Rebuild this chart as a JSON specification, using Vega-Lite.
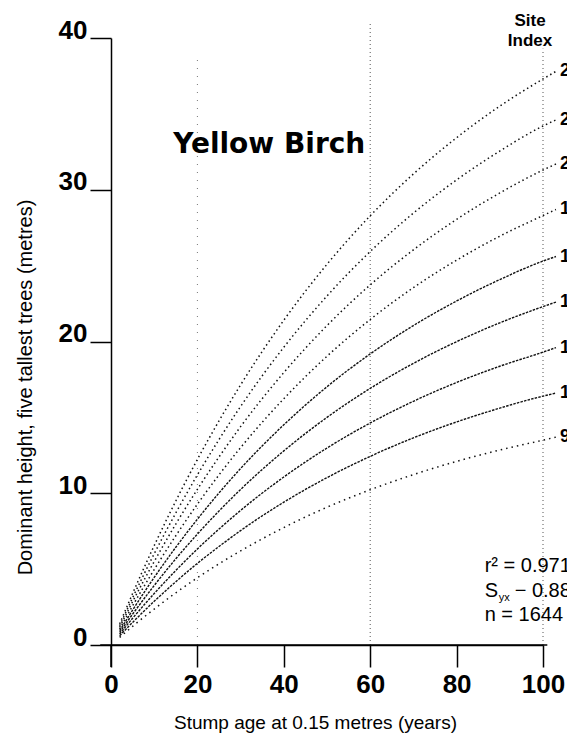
{
  "$schema": "https://vega.github.io/schema/vega-lite/v6.json",
  "width": 432,
  "height": 607,
  "autosize": "none",
  "padding": {"left": 111, "top": 38, "right": 24, "bottom": 91},
  "background": "white",
  "config": {"view": {"stroke": null}, "font": "Liberation Sans"},
  "datasets": {
    "curves": [
      {"si": 25, "age": 2, "h": 1.39}, {"si": 25, "age": 5, "h": 3.39}, {"si": 25, "age": 10, "h": 6.55}, {"si": 25, "age": 15, "h": 9.49}, {"si": 25, "age": 20, "h": 12.23}, {"si": 25, "age": 25, "h": 14.77}, {"si": 25, "age": 30, "h": 17.14}, {"si": 25, "age": 40, "h": 21.4}, {"si": 25, "age": 50, "h": 25.09}, {"si": 25, "age": 60, "h": 28.28}, {"si": 25, "age": 70, "h": 31.04}, {"si": 25, "age": 80, "h": 33.43}, {"si": 25, "age": 90, "h": 35.51}, {"si": 25, "age": 100, "h": 37.3}, {"si": 25, "age": 103, "h": 37.8},
      {"si": 23, "age": 2, "h": 1.27}, {"si": 23, "age": 5, "h": 3.11}, {"si": 23, "age": 10, "h": 6.01}, {"si": 23, "age": 15, "h": 8.7}, {"si": 23, "age": 20, "h": 11.21}, {"si": 23, "age": 25, "h": 13.54}, {"si": 23, "age": 30, "h": 15.72}, {"si": 23, "age": 40, "h": 19.62}, {"si": 23, "age": 50, "h": 23.0}, {"si": 23, "age": 60, "h": 25.93}, {"si": 23, "age": 70, "h": 28.46}, {"si": 23, "age": 80, "h": 30.65}, {"si": 23, "age": 90, "h": 32.55}, {"si": 23, "age": 100, "h": 34.2}, {"si": 23, "age": 103, "h": 34.6},
      {"si": 21, "age": 2, "h": 1.16}, {"si": 21, "age": 5, "h": 2.85}, {"si": 21, "age": 10, "h": 5.5}, {"si": 21, "age": 15, "h": 7.97}, {"si": 21, "age": 20, "h": 10.26}, {"si": 21, "age": 25, "h": 12.39}, {"si": 21, "age": 30, "h": 14.39}, {"si": 21, "age": 40, "h": 17.95}, {"si": 21, "age": 50, "h": 21.05}, {"si": 21, "age": 60, "h": 23.73}, {"si": 21, "age": 70, "h": 26.04}, {"si": 21, "age": 80, "h": 28.05}, {"si": 21, "age": 90, "h": 29.79}, {"si": 21, "age": 100, "h": 31.3}, {"si": 21, "age": 103, "h": 31.7},
      {"si": 19, "age": 2, "h": 1.05}, {"si": 19, "age": 5, "h": 2.58}, {"si": 19, "age": 10, "h": 4.97}, {"si": 19, "age": 15, "h": 7.2}, {"si": 19, "age": 20, "h": 9.28}, {"si": 19, "age": 25, "h": 11.21}, {"si": 19, "age": 30, "h": 13.01}, {"si": 19, "age": 40, "h": 16.23}, {"si": 19, "age": 50, "h": 19.03}, {"si": 19, "age": 60, "h": 21.45}, {"si": 19, "age": 70, "h": 23.55}, {"si": 19, "age": 80, "h": 25.36}, {"si": 19, "age": 90, "h": 26.94}, {"si": 19, "age": 100, "h": 28.3}, {"si": 19, "age": 103, "h": 28.7},
      {"si": 17, "age": 2, "h": 0.94}, {"si": 17, "age": 5, "h": 2.3}, {"si": 17, "age": 10, "h": 4.45}, {"si": 17, "age": 15, "h": 6.44}, {"si": 17, "age": 20, "h": 8.29}, {"si": 17, "age": 25, "h": 10.02}, {"si": 17, "age": 30, "h": 11.63}, {"si": 17, "age": 40, "h": 14.51}, {"si": 17, "age": 50, "h": 17.02}, {"si": 17, "age": 60, "h": 19.18}, {"si": 17, "age": 70, "h": 21.05}, {"si": 17, "age": 80, "h": 22.67}, {"si": 17, "age": 90, "h": 24.08}, {"si": 17, "age": 100, "h": 25.3}, {"si": 17, "age": 103, "h": 25.6},
      {"si": 15, "age": 2, "h": 0.83}, {"si": 15, "age": 5, "h": 2.03}, {"si": 15, "age": 10, "h": 3.92}, {"si": 15, "age": 15, "h": 5.68}, {"si": 15, "age": 20, "h": 7.31}, {"si": 15, "age": 25, "h": 8.83}, {"si": 15, "age": 30, "h": 10.25}, {"si": 15, "age": 40, "h": 12.79}, {"si": 15, "age": 50, "h": 15.0}, {"si": 15, "age": 60, "h": 16.91}, {"si": 15, "age": 70, "h": 18.56}, {"si": 15, "age": 80, "h": 19.99}, {"si": 15, "age": 90, "h": 21.23}, {"si": 15, "age": 100, "h": 22.3}, {"si": 15, "age": 103, "h": 22.6},
      {"si": 13, "age": 2, "h": 0.72}, {"si": 13, "age": 5, "h": 1.76}, {"si": 13, "age": 10, "h": 3.39}, {"si": 13, "age": 15, "h": 4.91}, {"si": 13, "age": 20, "h": 6.33}, {"si": 13, "age": 25, "h": 7.64}, {"si": 13, "age": 30, "h": 8.87}, {"si": 13, "age": 40, "h": 11.07}, {"si": 13, "age": 50, "h": 12.98}, {"si": 13, "age": 60, "h": 14.63}, {"si": 13, "age": 70, "h": 16.06}, {"si": 13, "age": 80, "h": 17.3}, {"si": 13, "age": 90, "h": 18.37}, {"si": 13, "age": 100, "h": 19.3}, {"si": 13, "age": 103, "h": 19.6},
      {"si": 11, "age": 2, "h": 0.61}, {"si": 11, "age": 5, "h": 1.49}, {"si": 11, "age": 10, "h": 2.88}, {"si": 11, "age": 15, "h": 4.17}, {"si": 11, "age": 20, "h": 5.38}, {"si": 11, "age": 25, "h": 6.49}, {"si": 11, "age": 30, "h": 7.54}, {"si": 11, "age": 40, "h": 9.41}, {"si": 11, "age": 50, "h": 11.03}, {"si": 11, "age": 60, "h": 12.43}, {"si": 11, "age": 70, "h": 13.65}, {"si": 11, "age": 80, "h": 14.7}, {"si": 11, "age": 90, "h": 15.61}, {"si": 11, "age": 100, "h": 16.4}, {"si": 11, "age": 103, "h": 16.6},
      {"si": 9, "age": 2, "h": 0.5}, {"si": 9, "age": 5, "h": 1.23}, {"si": 9, "age": 10, "h": 2.37}, {"si": 9, "age": 15, "h": 3.44}, {"si": 9, "age": 20, "h": 4.43}, {"si": 9, "age": 25, "h": 5.35}, {"si": 9, "age": 30, "h": 6.2}, {"si": 9, "age": 40, "h": 7.74}, {"si": 9, "age": 50, "h": 9.08}, {"si": 9, "age": 60, "h": 10.23}, {"si": 9, "age": 70, "h": 11.23}, {"si": 9, "age": 80, "h": 12.1}, {"si": 9, "age": 90, "h": 12.85}, {"si": 9, "age": 100, "h": 13.5}, {"si": 9, "age": 103, "h": 13.7}
    ],
    "grid": [{"age": 20}, {"age": 60}, {"age": 100}],
    "notes": [{"t": "Yellow Birch"}]
  },
  "layer": [
    {"data": {"name": "grid"}, "transform": [{"filter": "datum.age == 60"}], "mark": {"type": "rule", "color": "#555", "strokeWidth": 1, "strokeDash": [1, 3]},
      "encoding": {"x": {"field": "age", "type": "quantitative"}, "y": {"datum": 0, "type": "quantitative"}, "y2": {"datum": 41}}},
    {"data": {"name": "grid"}, "transform": [{"filter": "datum.age == 100"}], "mark": {"type": "rule", "color": "#555", "strokeWidth": 1, "strokeDash": [1, 3]},
      "encoding": {"x": {"field": "age", "type": "quantitative"}, "y": {"datum": 0, "type": "quantitative"}, "y2": {"datum": 39.3}}},
    {"data": {"name": "grid"}, "transform": [{"filter": "datum.age < 50"}], "mark": {"type": "rule", "color": "#777", "strokeWidth": 1, "strokeDash": [1, 7]},
      "encoding": {"x": {"field": "age", "type": "quantitative"}, "y": {"datum": 0, "type": "quantitative"}, "y2": {"datum": 39}}},
    {"data": {"name": "curves"}, "transform": [{"filter": "datum.si >= 19"}], "mark": {"type": "line", "color": "#111", "strokeWidth": 1.5, "strokeDash": [1.5, 3], "interpolate": "monotone"},
      "encoding": {
        "x": {"field": "age", "type": "quantitative", "scale": {"domain": [0, 100], "nice": false},
          "axis": {"values": [0, 20, 40, 60, 80, 100], "title": "Stump age at 0.15 metres (years)", "grid": false,
            "domainColor": "black", "domainWidth": 1.5, "tickColor": "black", "tickWidth": 1.5, "tickSize": 22,
            "labelFont": "Liberation Sans", "labelFontWeight": "bold", "labelFontSize": 26, "labelColor": "black", "labelPadding": 4, "labelFlush": false,
            "titleFont": "Liberation Sans", "titleFontWeight": "normal", "titleFontSize": 19, "titleColor": "black", "titleX": 204, "titleY": 68, "titleBaseline": "top", "titleAlign": "center"}},
        "y": {"field": "h", "type": "quantitative", "scale": {"domain": [0, 40], "nice": false},
          "axis": {"values": [0, 10, 20, 30, 40], "title": "Dominant height, five tallest trees (metres)", "grid": false,
            "domainColor": "black", "domainWidth": 1.5, "tickColor": "black", "tickWidth": 1.5, "tickSize": 21,
            "labelFont": "Liberation Sans", "labelFontWeight": "bold", "labelFontSize": 26, "labelColor": "black", "labelPadding": 3, "labelBaseline": "alphabetic", "labelFlush": false,
            "titleFont": "Liberation Sans", "titleFontWeight": "normal", "titleFontSize": 20, "titleColor": "black", "titleAngle": 270, "titleX": -86, "titleY": 349, "titleAlign": "center", "titleBaseline": "middle"}},
        "detail": {"field": "si"}}},
    {"data": {"name": "curves"}, "transform": [{"filter": "datum.si >= 11 && datum.si <= 17"}], "mark": {"type": "line", "color": "#111", "strokeWidth": 1.4, "strokeDash": [2.5, 1.2], "interpolate": "monotone"},
      "encoding": {"x": {"field": "age", "type": "quantitative"}, "y": {"field": "h", "type": "quantitative"}, "detail": {"field": "si"}}},
    {"data": {"name": "curves"}, "transform": [{"filter": "datum.si == 9"}], "mark": {"type": "line", "color": "#111", "strokeWidth": 1.5, "strokeDash": [1.5, 4], "interpolate": "monotone"},
      "encoding": {"x": {"field": "age", "type": "quantitative"}, "y": {"field": "h", "type": "quantitative"}, "detail": {"field": "si"}}},
    {"data": {"name": "curves"}, "transform": [{"filter": "datum.age == 103"}], "mark": {"type": "text", "align": "left", "baseline": "middle", "dx": 4, "font": "Liberation Sans", "fontWeight": "bold", "fontSize": 18, "color": "black"},
      "encoding": {"x": {"field": "age", "type": "quantitative"}, "y": {"field": "h", "type": "quantitative"}, "text": {"field": "si"}}},
    {"data": {"name": "notes"}, "mark": {"type": "rule", "color": "black", "strokeWidth": 1.5},
      "encoding": {"x": {"datum": -2.5, "type": "quantitative"}, "x2": {"datum": 101}, "y": {"datum": 0, "type": "quantitative"}}},
    {"data": {"name": "notes"}, "mark": {"type": "rule", "color": "black", "strokeWidth": 1.5},
      "encoding": {"x": {"datum": 0, "type": "quantitative"}, "y": {"datum": -1.45, "type": "quantitative"}, "y2": {"datum": 0}}},
    {"data": {"name": "notes"}, "mark": {"type": "text", "text": "Site", "align": "center", "baseline": "alphabetic", "font": "Liberation Sans", "fontWeight": "bold", "fontSize": 17, "color": "black"},
      "encoding": {"x": {"datum": 97, "type": "quantitative"}, "y": {"datum": 40.8, "type": "quantitative"}}},
    {"data": {"name": "notes"}, "mark": {"type": "text", "text": "Index", "align": "center", "baseline": "alphabetic", "font": "Liberation Sans", "fontWeight": "bold", "fontSize": 17, "color": "black"},
      "encoding": {"x": {"datum": 97, "type": "quantitative"}, "y": {"datum": 39.5, "type": "quantitative"}}},
    {"data": {"name": "notes"}, "mark": {"type": "text", "align": "left", "baseline": "alphabetic", "font": "DejaVu Sans", "fontWeight": "bold", "fontSize": 28, "color": "black"},
      "encoding": {"text": {"field": "t"}, "x": {"datum": 14.4, "type": "quantitative"}, "y": {"datum": 32.4, "type": "quantitative"}}},
    {"data": {"name": "notes"}, "mark": {"type": "text", "text": "r² = 0.971", "align": "left", "baseline": "alphabetic", "font": "Liberation Sans", "fontSize": 20, "color": "black"},
      "encoding": {"x": {"datum": 86.5, "type": "quantitative"}, "y": {"datum": 4.8, "type": "quantitative"}}},
    {"data": {"name": "notes"}, "mark": {"type": "text", "text": "S", "align": "left", "baseline": "alphabetic", "font": "Liberation Sans", "fontSize": 20, "color": "black"},
      "encoding": {"x": {"datum": 86.5, "type": "quantitative"}, "y": {"datum": 3.15, "type": "quantitative"}}},
    {"data": {"name": "notes"}, "mark": {"type": "text", "text": "yx", "align": "left", "baseline": "alphabetic", "font": "Liberation Sans", "fontSize": 11, "color": "black", "dx": 14, "dy": 4},
      "encoding": {"x": {"datum": 86.5, "type": "quantitative"}, "y": {"datum": 3.15, "type": "quantitative"}}},
    {"data": {"name": "notes"}, "mark": {"type": "text", "text": "− 0.88", "align": "left", "baseline": "alphabetic", "font": "Liberation Sans", "fontSize": 20, "color": "black", "dx": 30},
      "encoding": {"x": {"datum": 86.5, "type": "quantitative"}, "y": {"datum": 3.15, "type": "quantitative"}}},
    {"data": {"name": "notes"}, "mark": {"type": "text", "text": "n = 1644", "align": "left", "baseline": "alphabetic", "font": "Liberation Sans", "fontSize": 20, "color": "black"},
      "encoding": {"x": {"datum": 86.5, "type": "quantitative"}, "y": {"datum": 1.6, "type": "quantitative"}}}
  ]
}
